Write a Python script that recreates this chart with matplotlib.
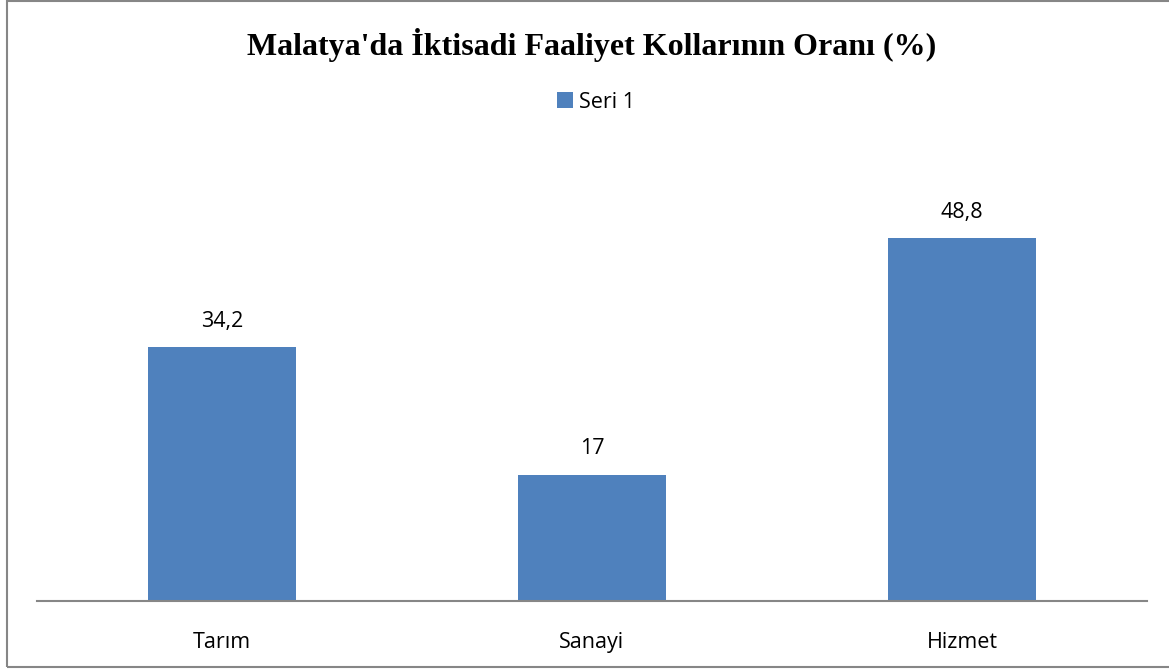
import matplotlib.pyplot as plt
from matplotlib.patches import Rectangle

categories = ['Tarım', 'Sanayi', 'Hizmet']
values = [34.2, 17, 48.8]
value_labels = ['34,2', '17', '48,8']
series_name = 'Seri 1'

W, H = 1169, 671
fig = plt.figure(figsize=(W / 100, H / 100), dpi=100)
fig.patch.set_facecolor('white')

# outer chart border
fig.patches.append(Rectangle((7 / W, (H - 667) / H), (1175 - 7) / W, (667 - 1) / H,
                             transform=fig.transFigure, fill=False,
                             edgecolor='#868686', linewidth=1.5))

ax = fig.add_axes([37 / W, (H - 601) / H, 1110 / W, 446 / H])
bars = ax.bar(range(len(categories)), values, width=0.4, color='#4F81BD',
              label=series_name, zorder=2)
ax.set_xlim(-0.5, len(categories) - 0.5)
ax.set_ylim(0, 60)

for spine in ['top', 'right', 'left']:
    ax.spines[spine].set_visible(False)
ax.spines['bottom'].set_color('#868686')
ax.spines['bottom'].set_linewidth(1.5)
ax.set_yticks([])
ax.set_xticks(range(len(categories)))
ax.set_xticklabels(categories, fontsize=15.5, family='Open Sans')
ax.tick_params(axis='x', length=0, pad=22)

for b, lab in zip(bars, value_labels):
    ax.annotate(lab, (b.get_x() + b.get_width() / 2, b.get_height()),
                xytext=(0, 11), textcoords='offset points', ha='center',
                va='bottom', fontsize=15.5, family='Open Sans')

fig.text(592 / W, (H - 45) / H, "Malatya'da İktisadi Faaliyet Kollarının Oranı (%)",
         ha='center', va='center', fontsize=23, fontweight='bold',
         family='Liberation Serif')

fig.legend(handles=[bars], labels=[series_name], loc='center',
           bbox_to_anchor=(596 / W, (H - 102) / H), frameon=False,
           prop={'family': 'Open Sans', 'size': 15.5}, handlelength=0.75,
           handleheight=0.75, handletextpad=0.3)

fig.savefig('out.png', dpi=100)
